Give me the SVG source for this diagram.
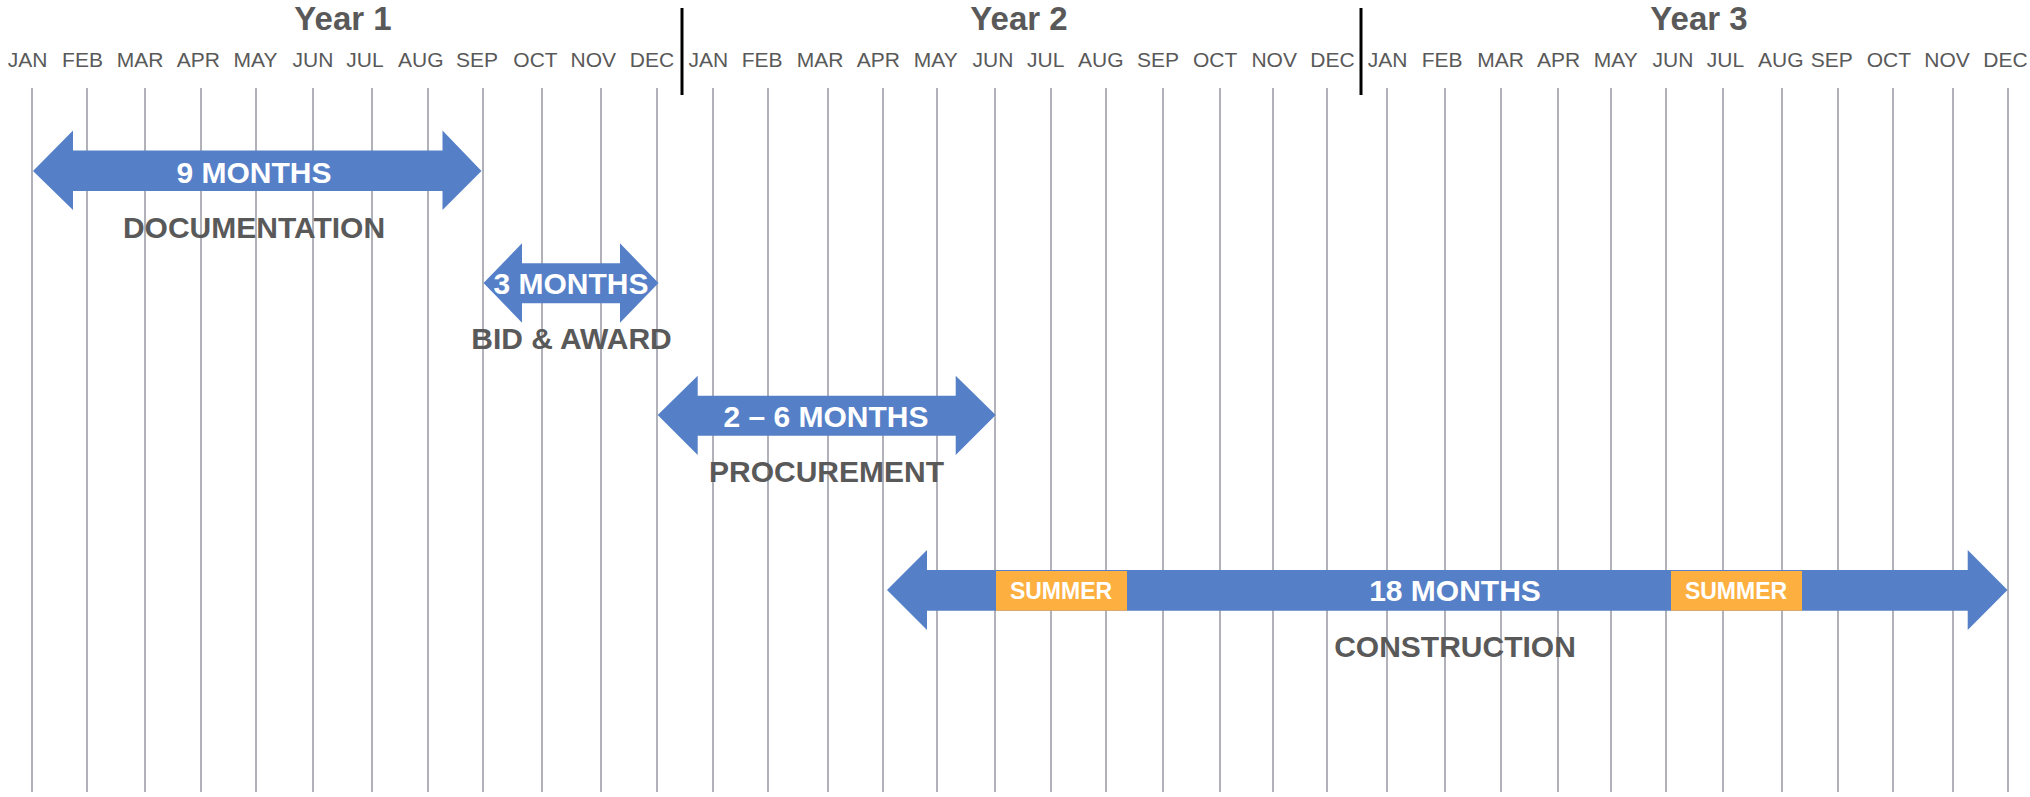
<svg xmlns="http://www.w3.org/2000/svg" width="2030" height="797" viewBox="0 0 2030 797">
<style>
.bg{fill:#ffffff}
.grid line{stroke:#B1B1BA;stroke-width:2}
.div{stroke:#000000;stroke-width:3}
.year{font-family:"Liberation Sans",Arial,sans-serif;font-weight:bold;font-size:33px;fill:#595959;text-anchor:middle}
.month{font-family:"Liberation Sans",Arial,sans-serif;font-size:21px;fill:#595959;text-anchor:middle}
.arrow{fill:#5580C8}
.summer{fill:#FDB040}
.lbl{font-family:"Liberation Sans",Arial,sans-serif;font-weight:bold;font-size:30px;text-anchor:middle}
.w{fill:#ffffff}
.g{fill:#595959}
.sm{font-family:"Liberation Sans",Arial,sans-serif;font-weight:bold;font-size:23px;fill:#ffffff;text-anchor:middle}
</style>
<rect class="bg" x="0" y="0" width="2030" height="797"/>
<g id="grid" class="grid">
<line x1="32" y1="88" x2="32" y2="792"/>
<line x1="87" y1="88" x2="87" y2="792"/>
<line x1="145" y1="88" x2="145" y2="792"/>
<line x1="201" y1="88" x2="201" y2="792"/>
<line x1="256" y1="88" x2="256" y2="792"/>
<line x1="313" y1="88" x2="313" y2="792"/>
<line x1="372" y1="88" x2="372" y2="792"/>
<line x1="428" y1="88" x2="428" y2="792"/>
<line x1="483" y1="88" x2="483" y2="792"/>
<line x1="542" y1="88" x2="542" y2="792"/>
<line x1="601" y1="88" x2="601" y2="792"/>
<line x1="657" y1="88" x2="657" y2="792"/>
<line x1="713" y1="88" x2="713" y2="792"/>
<line x1="768" y1="88" x2="768" y2="792"/>
<line x1="828" y1="88" x2="828" y2="792"/>
<line x1="883" y1="88" x2="883" y2="792"/>
<line x1="937" y1="88" x2="937" y2="792"/>
<line x1="995" y1="88" x2="995" y2="792"/>
<line x1="1051" y1="88" x2="1051" y2="792"/>
<line x1="1106" y1="88" x2="1106" y2="792"/>
<line x1="1163" y1="88" x2="1163" y2="792"/>
<line x1="1220" y1="88" x2="1220" y2="792"/>
<line x1="1273" y1="88" x2="1273" y2="792"/>
<line x1="1327" y1="88" x2="1327" y2="792"/>
<line x1="1387" y1="88" x2="1387" y2="792"/>
<line x1="1445" y1="88" x2="1445" y2="792"/>
<line x1="1501" y1="88" x2="1501" y2="792"/>
<line x1="1558" y1="88" x2="1558" y2="792"/>
<line x1="1611" y1="88" x2="1611" y2="792"/>
<line x1="1666" y1="88" x2="1666" y2="792"/>
<line x1="1723" y1="88" x2="1723" y2="792"/>
<line x1="1782" y1="88" x2="1782" y2="792"/>
<line x1="1838" y1="88" x2="1838" y2="792"/>
<line x1="1893" y1="88" x2="1893" y2="792"/>
<line x1="1953" y1="88" x2="1953" y2="792"/>
<line x1="2008" y1="88" x2="2008" y2="792"/>
</g>
<g id="header">
<line class="div" x1="682" y1="8" x2="682" y2="95"/>
<line class="div" x1="1361" y1="8" x2="1361" y2="95"/>
<text class="year" x="343" y="30">Year 1</text>
<text class="year" x="1019" y="30">Year 2</text>
<text class="year" x="1699" y="30">Year 3</text>
<text class="month" x="27.5" y="67">JAN</text>
<text class="month" x="82.5" y="67">FEB</text>
<text class="month" x="140" y="67">MAR</text>
<text class="month" x="198.3" y="67">APR</text>
<text class="month" x="255.5" y="67">MAY</text>
<text class="month" x="313" y="67">JUN</text>
<text class="month" x="365" y="67">JUL</text>
<text class="month" x="420.8" y="67">AUG</text>
<text class="month" x="477" y="67">SEP</text>
<text class="month" x="535.5" y="67">OCT</text>
<text class="month" x="593.3" y="67">NOV</text>
<text class="month" x="652" y="67">DEC</text>
<text class="month" x="708.3" y="67">JAN</text>
<text class="month" x="762.2" y="67">FEB</text>
<text class="month" x="820" y="67">MAR</text>
<text class="month" x="878.3" y="67">APR</text>
<text class="month" x="935.8" y="67">MAY</text>
<text class="month" x="993" y="67">JUN</text>
<text class="month" x="1045.7" y="67">JUL</text>
<text class="month" x="1100.8" y="67">AUG</text>
<text class="month" x="1158" y="67">SEP</text>
<text class="month" x="1215.2" y="67">OCT</text>
<text class="month" x="1274.2" y="67">NOV</text>
<text class="month" x="1332.5" y="67">DEC</text>
<text class="month" x="1387.5" y="67">JAN</text>
<text class="month" x="1442.2" y="67">FEB</text>
<text class="month" x="1500.7" y="67">MAR</text>
<text class="month" x="1558.7" y="67">APR</text>
<text class="month" x="1615.8" y="67">MAY</text>
<text class="month" x="1673" y="67">JUN</text>
<text class="month" x="1725.5" y="67">JUL</text>
<text class="month" x="1780.8" y="67">AUG</text>
<text class="month" x="1831.7" y="67">SEP</text>
<text class="month" x="1888.8" y="67">OCT</text>
<text class="month" x="1947" y="67">NOV</text>
<text class="month" x="2005.5" y="67">DEC</text>
</g>
<g id="documentation">
<polygon class="arrow" points="33,171 73,130.5 73,150.5 442.5,150.5 442.5,130.5 481.5,171 442.5,210 442.5,191 73,191 73,210"/>
<text class="lbl w" x="254" y="183">9 MONTHS</text>
<text class="lbl g" x="254" y="238">DOCUMENTATION</text>
</g>
<g id="bid-award">
<polygon class="arrow" points="483.5,283 522,243.3 522,263.3 620,263.3 620,243.3 658.5,283 620,322.7 620,303.3 522,303.3 522,322.7"/>
<text class="lbl w" x="571" y="294">3 MONTHS</text>
<text class="lbl g" x="571.5" y="349">BID &amp; AWARD</text>
</g>
<g id="procurement">
<polygon class="arrow" points="657.7,415 697.7,375.7 697.7,395.7 955.7,395.7 955.7,375.7 995.7,415 955.7,455 955.7,435.7 697.7,435.7 697.7,455"/>
<text class="lbl w" x="826" y="427">2 – 6 MONTHS</text>
<text class="lbl g" x="826.5" y="482">PROCUREMENT</text>
</g>
<g id="construction">
<polygon class="arrow" points="887,590 927,550 927,570 1967.7,570 1967.7,550 2007.5,590 1967.7,630 1967.7,610.7 927,610.7 927,630"/>
<rect class="summer" x="996" y="571" width="131" height="39.7"/>
<rect class="summer" x="1671" y="571" width="131" height="39.7"/>
<text class="sm" x="1061" y="598.5">SUMMER</text>
<text class="sm" x="1736" y="598.5">SUMMER</text>
<text class="lbl w" x="1455" y="601">18 MONTHS</text>
<text class="lbl g" x="1455" y="657">CONSTRUCTION</text>
</g>
</svg>
